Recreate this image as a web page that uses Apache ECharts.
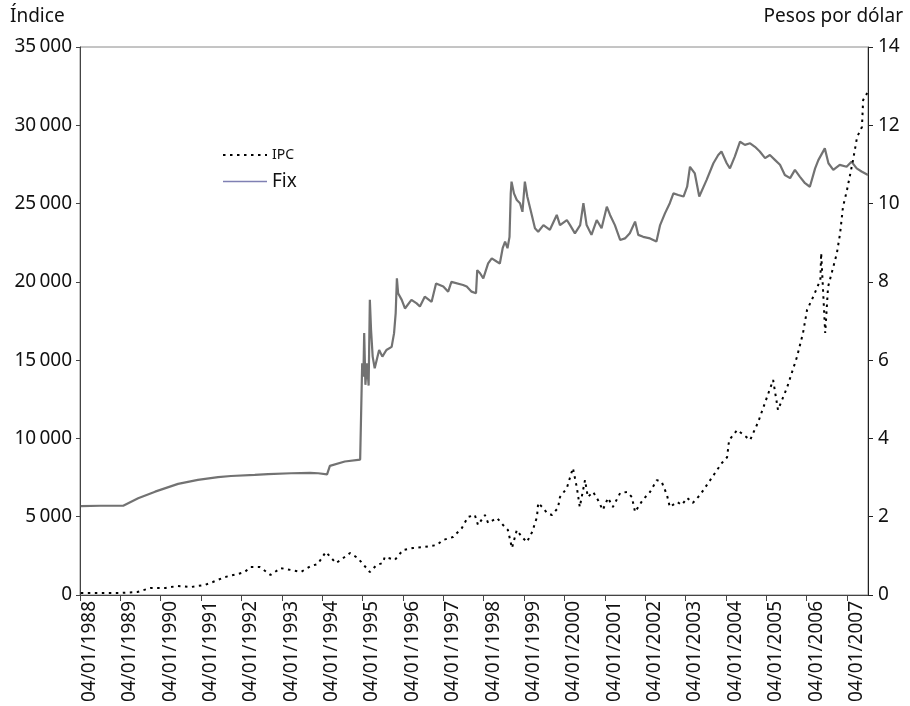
<!DOCTYPE html>
<html>
<head>
<meta charset="utf-8">
<script src="https://cdn.jsdelivr.net/npm/echarts@6/dist/echarts.min.js"></script>
<style>
  html, body { margin: 0; padding: 0; background: #fff; }
  #chart { width: 910px; height: 706px; }
</style>
</head>
<body>
<div id="chart"></div>
<script>
// Dates are decimal years; 1988.0 corresponds to 04/01/1988.
const tickYears = [1988, 1989, 1990, 1991, 1992, 1993, 1994, 1995, 1996, 1997,
                   1998, 1999, 2000, 2001, 2002, 2003, 2004, 2005, 2006, 2007];

// IPC (stock index, left axis)
const ipcYears = [
  1988.02, 1988.50, 1989.01, 1989.42, 1989.74, 1990.12, 1990.42, 1990.75, 1991.09, 1991.29,
  1991.59, 1991.91, 1992.08, 1992.23, 1992.45, 1992.72, 1992.97, 1993.22, 1993.47, 1993.72,
  1993.89, 1994.09, 1994.34, 1994.46, 1994.69, 1994.88, 1995.18, 1995.35, 1995.50, 1995.55,
  1995.80, 1996.00, 1996.25, 1996.54, 1996.84, 1996.99, 1997.24, 1997.46, 1997.61, 1997.78,
  1997.86, 1998.03, 1998.11, 1998.33, 1998.48, 1998.60, 1998.70, 1998.82, 1998.95, 1999.07,
  1999.20, 1999.32, 1999.35, 1999.47, 1999.57, 1999.69, 1999.84, 1999.89, 2000.06, 2000.21,
  2000.31, 2000.38, 2000.51, 2000.58, 2000.71, 2000.83, 2000.95, 2001.08, 2001.20, 2001.38,
  2001.55, 2001.67, 2001.75, 2001.94, 2002.12, 2002.29, 2002.41, 2002.54, 2002.61, 2002.79,
  2002.91, 2003.04, 2003.18, 2003.36, 2003.53, 2003.73, 2003.90, 2004.03, 2004.08, 2004.28,
  2004.60, 2004.80, 2005.02, 2005.17, 2005.29, 2005.52, 2005.76, 2005.91, 2006.01, 2006.16,
  2006.34, 2006.36, 2006.46, 2006.53, 2006.75, 2006.83, 2006.90, 2007.00, 2007.15, 2007.25,
  2007.37, 2007.40, 2007.50
];
const ipcValues = [
  130, 120, 130, 190, 450, 450, 580, 510, 640, 830,
  1150, 1340, 1470, 1790, 1790, 1280, 1720, 1600, 1470, 1850,
  1980, 2750, 2040, 2240, 2680, 2360, 1470, 1920, 2040, 2430,
  2240, 2870, 3000, 3070, 3190, 3510, 3700, 4280, 4980, 5110,
  4470, 5110, 4600, 4920, 4470, 4150, 3000, 4150, 3700, 3380,
  4020, 4980, 5880, 5560, 5240, 5110, 5560, 6260, 6830, 8110,
  6830, 5620, 7340, 6260, 6580, 6070, 5430, 6200, 5620, 6510,
  6580, 6260, 5300, 6070, 6580, 7340, 7220, 6390, 5620, 5940,
  5750, 6200, 5880, 6390, 7030, 7790, 8430, 8800, 9900, 10540,
  9900, 11050, 12650, 13730, 11820, 13290, 15200, 16730, 18200, 19030,
  20120, 21840, 16730, 19670, 21840, 23120, 24780, 25870, 27780, 29250,
  29890, 31620, 32060
];

// FIX exchange rate (pesos per dollar, right axis)
const fixYears = [
  1988.02, 1988.50, 1989.07, 1989.44, 1989.86, 1990.43, 1990.92, 1991.42, 1991.74, 1992.33,
  1992.66, 1993.23, 1993.70, 1993.90, 1994.12, 1994.19, 1994.56, 1994.94,
  1994.96, 1994.99, 1995.02, 1995.04, 1995.07, 1995.11, 1995.15, 1995.18, 1995.21, 1995.25,
  1995.30, 1995.41, 1995.49, 1995.59, 1995.72, 1995.78, 1995.82, 1995.85, 1995.88, 1995.97,
  1996.05, 1996.21, 1996.34, 1996.42, 1996.54, 1996.71, 1996.82, 1997.00, 1997.12, 1997.20,
  1997.49, 1997.58, 1997.70, 1997.81, 1997.84, 1997.91, 1997.99, 1998.11, 1998.20, 1998.32,
  1998.40, 1998.47, 1998.53, 1998.59, 1998.64, 1998.67, 1998.69, 1998.75, 1998.82, 1998.90,
  1998.96, 1999.02, 1999.08, 1999.16, 1999.27, 1999.35, 1999.48, 1999.64, 1999.81, 1999.89,
  2000.06, 2000.14, 2000.26, 2000.39, 2000.47, 2000.55, 2000.67, 2000.80, 2000.92, 2001.05,
  2001.13, 2001.25, 2001.38, 2001.50, 2001.62, 2001.75, 2001.83, 2001.95, 2002.12, 2002.28,
  2002.37, 2002.49, 2002.61, 2002.70, 2002.82, 2002.95, 2003.04, 2003.11, 2003.23, 2003.34,
  2003.52, 2003.69, 2003.81, 2003.89, 2004.02, 2004.10, 2004.22, 2004.35, 2004.47, 2004.60,
  2004.72, 2004.84, 2004.97, 2005.09, 2005.22, 2005.34, 2005.46, 2005.59, 2005.71, 2005.83,
  2005.96, 2006.08, 2006.21, 2006.29, 2006.45, 2006.54, 2006.66, 2006.82, 2006.99, 2007.11,
  2007.24, 2007.36, 2007.52
];
const fixValues = [
  2.27, 2.28, 2.28, 2.47, 2.64, 2.84, 2.94, 3.01, 3.04, 3.07,
  3.09, 3.11, 3.12, 3.11, 3.08, 3.30, 3.41, 3.46,
  3.46, 5.92, 5.58, 6.69, 5.37, 5.92, 5.35, 7.54, 6.77, 6.09,
  5.79, 6.26, 6.09, 6.26, 6.34, 6.69, 7.20, 8.09, 7.71, 7.54,
  7.32, 7.54, 7.45, 7.37, 7.62, 7.49, 7.96, 7.88, 7.75, 8.00,
  7.92, 7.88, 7.75, 7.71, 8.30, 8.22, 8.09, 8.47, 8.60, 8.52,
  8.47, 8.86, 9.03, 8.86, 9.15, 10.26, 10.56, 10.26, 10.09, 10.01,
  9.79, 10.56, 10.18, 9.84, 9.37, 9.28, 9.45, 9.33, 9.71, 9.45,
  9.58, 9.45, 9.24, 9.45, 10.01, 9.45, 9.20, 9.58, 9.37, 9.92,
  9.71, 9.45, 9.07, 9.11, 9.24, 9.54, 9.20, 9.15, 9.11, 9.03,
  9.45, 9.75, 10.01, 10.26, 10.22, 10.18, 10.43, 10.94, 10.77, 10.18,
  10.60, 11.03, 11.24, 11.33, 11.03, 10.90, 11.20, 11.58, 11.50, 11.54,
  11.45, 11.33, 11.16, 11.24, 11.11, 10.99, 10.73, 10.65, 10.86, 10.69,
  10.52, 10.43, 10.90, 11.11, 11.41, 11.03, 10.86, 10.99, 10.94, 11.07,
  10.90, 10.82, 10.73
];

const pair = (xs, ys) => xs.map((x, i) => [x, ys[i]]);
const thousands = v => String(v).replace(/\B(?=(\d{3})+(?!\d))/g, '\u2009');

const FONT = 'Noto Sans';
const TXT = '#111';

const chart = echarts.init(document.getElementById('chart'), null, { renderer: 'canvas' });

chart.setOption({
  animation: false,
  backgroundColor: '#fff',
  textStyle: { fontFamily: FONT, color: TXT },
  grid: {
    left: 80, right: 42, top: 47, bottom: 111,
    show: true, borderColor: '#8a8a8a', borderWidth: 1, backgroundColor: 'transparent'
  },
  graphic: [
    { type: 'text', left: 10, top: 7,
      style: { text: 'Índice', font: '19px "Noto Sans"', fill: TXT } },
    { type: 'text', right: 7, top: 7,
      style: { text: 'Pesos por dólar', font: '19px "Noto Sans"', fill: TXT } }
  ],
  legend: {
    orient: 'vertical',
    left: 217, top: 143,
    itemWidth: 44, itemHeight: 12, itemGap: 10,
    data: [
      { name: 'IPC', itemStyle: { opacity: 0 },
        textStyle: { fontSize: 14, color: TXT, fontFamily: FONT } },
      { name: 'Fix', itemStyle: { opacity: 0 },
        textStyle: { fontSize: 19, color: TXT, fontFamily: FONT },
        lineStyle: { color: '#7f80b3', width: 1.5 } }
    ],
    textStyle: { fontFamily: FONT, color: TXT }
  },
  xAxis: {
    type: 'value',
    min: 1988, max: 2007.52, interval: 1,
    splitLine: { show: false },
    axisLine: { lineStyle: { color: '#444', width: 1 } },
    axisTick: { show: true, length: 6, inside: false, lineStyle: { color: '#444' } },
    axisLabel: {
      rotate: 90, fontSize: 19, margin: 6, color: TXT, fontFamily: FONT,
      verticalAlign: 'top',
      showMaxLabel: false,
      formatter: v => tickYears.includes(v) ? '04/01/' + v : ''
    }
  },
  yAxis: [
    {
      type: 'value', min: 0, max: 35000, interval: 5000, position: 'left',
      splitLine: { show: false },
      axisLine: { show: true, lineStyle: { color: '#444', width: 1 } },
      axisTick: { show: true, length: 4, lineStyle: { color: '#444' } },
      axisLabel: { fontSize: 19, margin: 8, color: TXT, fontFamily: FONT, formatter: thousands }
    },
    {
      type: 'value', min: 0, max: 14, interval: 2, position: 'right',
      splitLine: { show: false },
      axisLine: { show: true, lineStyle: { color: '#222', width: 1 } },
      axisTick: { show: true, length: 5, lineStyle: { color: '#222' } },
      axisLabel: { fontSize: 19, margin: 10, color: TXT, fontFamily: FONT }
    }
  ],
  series: [
    {
      name: 'Fix', type: 'line', yAxisIndex: 1,
      data: pair(fixYears, fixValues),
      symbol: 'none', smooth: false,
      lineStyle: { color: '#727272', width: 2.2 },
      itemStyle: { color: '#727272' },
      z: 2
    },
    {
      name: 'IPC', type: 'line', yAxisIndex: 0,
      data: pair(ipcYears, ipcValues),
      symbol: 'none', smooth: false,
      lineStyle: { color: '#000', width: 2, type: [2.5, 4.5] },
      itemStyle: { color: '#000' },
      z: 3
    }
  ]
});
</script>
</body>
</html>
